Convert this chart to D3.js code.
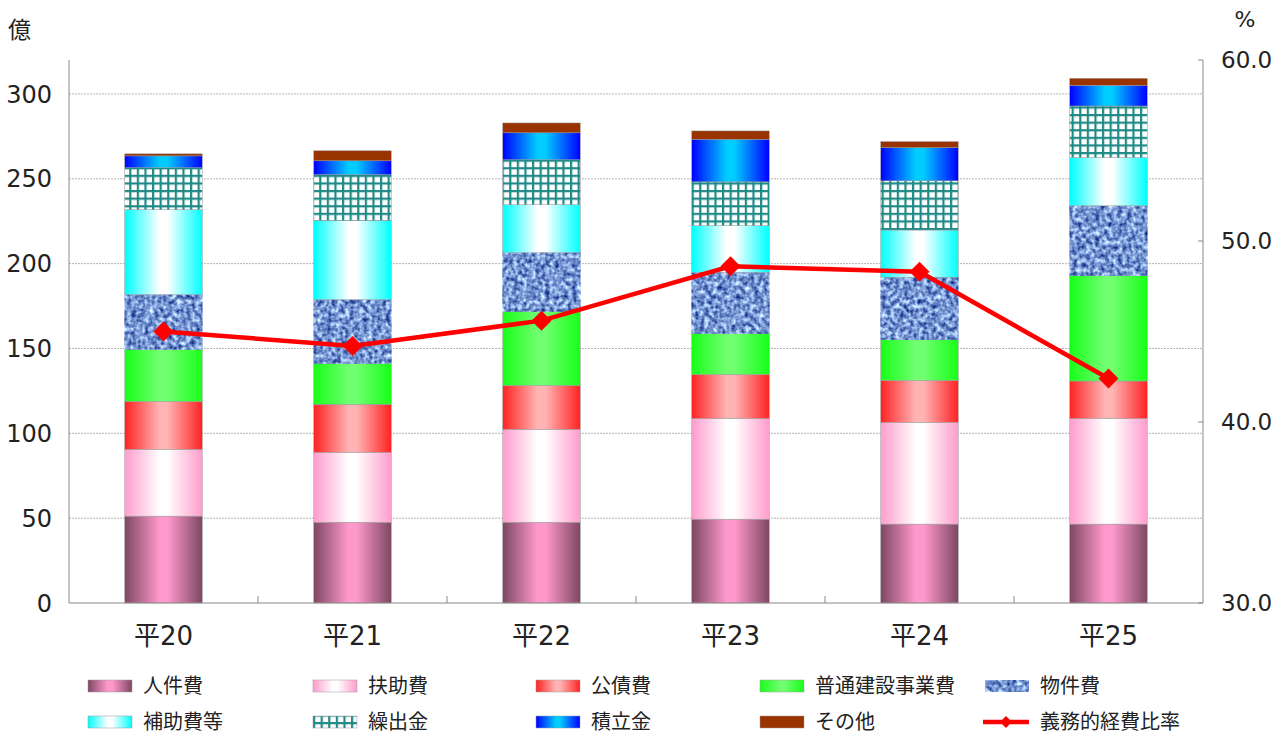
<!DOCTYPE html>
<html>
<head>
<meta charset="utf-8">
<script src="https://cdn.jsdelivr.net/npm/d3@7"></script>
<style>
  body { margin: 0; background: #fff; }
  svg { display: block; }
  text { font-family: "DejaVu Sans", "Noto Sans CJK JP", sans-serif; fill: #222; }
  .jp { font-family: "Noto Sans CJK JP", sans-serif; }
</style>
</head>
<body>
<div id="chart"></div>
<script>
// data
var categories = ["平20", "平21", "平22", "平23", "平24", "平25"];
var jinkenhi   = [51.2, 47.6, 47.6, 49.4, 46.5, 46.5];
var fujohi     = [39.4, 41.2, 54.8, 59.4, 60.0, 62.3];
var kosaihi    = [28.2, 28.3, 25.8, 25.9, 24.7, 22.0];
var futsuken   = [30.6, 24.1, 43.6, 24.1, 23.9, 62.1];
var bukkenhi   = [32.4, 37.6, 34.7, 36.1, 36.9, 41.2];
var hojohi     = [50.0, 46.5, 28.2, 27.5, 27.8, 28.4];
var kuridashi  = [24.7, 27.1, 26.5, 25.8, 29.0, 30.4];
var tsumitate  = [7.0, 8.2, 15.9, 25.1, 19.6, 12.2];
var sonota     = [1.2, 5.9, 5.8, 4.9, 3.5, 4.1];
var gimuRatio  = [45.0, 44.2, 45.6, 48.6, 48.3, 42.4];
var leftTicks  = [0, 50, 100, 150, 200, 250, 300];
var rightTicks = [30, 40, 50, 60];

var seriesNames = ["人件費", "扶助費", "公債費", "普通建設事業費", "物件費", "補助費等", "繰出金", "積立金", "その他"];
var seriesValues = [jinkenhi, fujohi, kosaihi, futsuken, bukkenhi, hojohi, kuridashi, tsumitate, sonota];
var lineName = "義務的経費比率";

// fills: gradient edge/center colours, or a pattern id
var fills = [
    { id: 'g0', edge: '#7e4763', center: '#ff99cc' },
    { id: 'g1', edge: '#ff9ccc', center: '#ffffff' },
    { id: 'g2', edge: '#ff2222', center: '#ffb4b4' },
    { id: 'g3', edge: '#18ff18', center: '#70ff70' },
    { id: 'tex' },
    { id: 'g5', edge: '#00ffff', center: '#ffffff' },
    { id: 'grid' },
    { id: 'g7', edge: '#0000ff', center: '#00ccff' },
    { id: 'g8', edge: '#993300', center: '#993300' }
];

var W = 1287, H = 735;
var plotL = 69, plotR = 1203, plotT = 60, plotB = 603;

var svg = d3.select('#chart').append('svg')
    .attr('width', W)
    .attr('height', H);

var defs = svg.append('defs');

fills.filter(function(f) { return f.edge; }).forEach(function(f) {
    var g = defs.append('linearGradient').attr('id', f.id)
        .attr('x1', 0).attr('x2', 1).attr('y1', 0).attr('y2', 0);
    g.append('stop').attr('offset', '0%').attr('stop-color', f.edge);
    g.append('stop').attr('offset', '45%').attr('stop-color', f.center);
    g.append('stop').attr('offset', '55%').attr('stop-color', f.center);
    g.append('stop').attr('offset', '100%').attr('stop-color', f.edge);
});

// teal lattice for 繰出金
var grid = defs.append('pattern').attr('id', 'grid')
    .attr('patternUnits', 'userSpaceOnUse')
    .attr('width', 7.6).attr('height', 7.6);
grid.append('rect').attr('width', 7.6).attr('height', 7.6).attr('fill', '#fff');
grid.append('rect').attr('x', 0).attr('width', 2.2).attr('height', 7.6).attr('fill', '#1f8a86');
grid.append('rect').attr('y', 0).attr('width', 7.6).attr('height', 2.2).attr('fill', '#1f8a86');

// denim-like noise for 物件費
var filt = defs.append('filter').attr('id', 'denim')
    .attr('color-interpolation-filters', 'sRGB')
    .attr('x', 0).attr('y', 0).attr('width', 1).attr('height', 1);
filt.append('feTurbulence').attr('type', 'fractalNoise')
    .attr('baseFrequency', '0.22').attr('numOctaves', 2).attr('seed', 3).attr('result', 'noise');
filt.append('feColorMatrix').attr('in', 'noise').attr('type', 'matrix')
    .attr('values', '1.25 0 0 0 -0.16  1.25 0 0 0 -0.04  0.9 0 0 0 0.37  0 0 0 0 1')
    .attr('result', 'col');
filt.append('feComposite').attr('in', 'col').attr('in2', 'SourceGraphic').attr('operator', 'in');

var x = d3.scaleBand().domain(categories).range([plotL, plotR])
    .paddingInner(0.59).paddingOuter(0.295);
var y = d3.scaleLinear().domain([0, 320]).range([plotB, plotT]);
var yR = d3.scaleLinear().domain([30, 60]).range([plotB, plotT]);

// gridlines
svg.append('g').selectAll('line').data(leftTicks.filter(function(d) { return d > 0; }))
    .enter().append('line')
    .attr('x1', plotL).attr('x2', plotR)
    .attr('y1', function(d) { return y(d); }).attr('y2', function(d) { return y(d); })
    .attr('stroke', '#b4b4b4').attr('stroke-width', 1).attr('stroke-dasharray', '2,1');

// stacked bars
var rows = categories.map(function(c, i) {
    var o = { cat: c };
    seriesNames.forEach(function(s, k) { o[s] = seriesValues[k][i]; });
    return o;
});
var stacked = d3.stack().keys(seriesNames)(rows);

var layers = svg.append('g').selectAll('g.layer').data(stacked)
    .enter().append('g').attr('class', 'layer');

layers.selectAll('rect').data(function(d) { return d; })
    .enter().append('rect')
    .attr('x', function(d) { return x(d.data.cat); })
    .attr('width', x.bandwidth())
    .attr('y', function(d) { return y(d[1]); })
    .attr('height', function(d) { return y(d[0]) - y(d[1]); })
    .attr('fill', function() {
        var k = seriesNames.indexOf(d3.select(this.parentNode).datum().key);
        return k === 4 ? '#5577aa' : 'url(#' + fills[k].id + ')';
    })
    .attr('filter', function() {
        var k = seriesNames.indexOf(d3.select(this.parentNode).datum().key);
        return k === 4 ? 'url(#denim)' : null;
    })
    .attr('stroke', '#9a9a9a').attr('stroke-width', 0.5);

// axes
var axisColor = '#8a8a8a';
svg.append('line').attr('x1', plotL).attr('x2', plotL).attr('y1', plotT).attr('y2', plotB)
    .attr('stroke', axisColor);
svg.append('line').attr('x1', plotR).attr('x2', plotR).attr('y1', plotT).attr('y2', plotB)
    .attr('stroke', axisColor);
svg.append('line').attr('x1', plotL).attr('x2', plotR).attr('y1', plotB).attr('y2', plotB)
    .attr('stroke', axisColor);

// category boundary ticks
svg.append('g').selectAll('line').data(categories.slice(1))
    .enter().append('line')
    .attr('x1', function(d) { return x(d) - x.step() * x.paddingInner() / 2; })
    .attr('x2', function(d) { return x(d) - x.step() * x.paddingInner() / 2; })
    .attr('y1', plotB - 7).attr('y2', plotB)
    .attr('stroke', axisColor);

// right axis ticks
svg.append('g').selectAll('line').data(rightTicks)
    .enter().append('line')
    .attr('x1', plotR - 5).attr('x2', plotR)
    .attr('y1', function(d) { return yR(d); }).attr('y2', function(d) { return yR(d); })
    .attr('stroke', axisColor);

svg.append('g').selectAll('text').data(leftTicks)
    .enter().append('text')
    .attr('x', 52).attr('y', function(d) { return y(d); })
    .attr('dy', '0.36em')
    .attr('text-anchor', 'end')
    .style('font-size', '24px')
    .text(function(d) { return d; });

svg.append('g').selectAll('text').data(rightTicks)
    .enter().append('text')
    .attr('x', 1221).attr('y', function(d) { return yR(d); })
    .attr('dy', '0.36em')
    .style('font-size', '23px')
    .text(function(d) { return d.toFixed(1); });

svg.append('g').selectAll('text').data(categories)
    .enter().append('text')
    .attr('x', function(d) { return x(d) + x.bandwidth() / 2; })
    .attr('y', 645)
    .attr('text-anchor', 'middle')
    .style('font-size', '26px')
    .text(function(d) { return d; });

svg.append('text').attr('class', 'jp').attr('x', 8).attr('y', 38)
    .style('font-size', '23px').text('億');
svg.append('text').attr('x', 1245).attr('y', 27).attr('text-anchor', 'middle')
    .style('font-size', '22px').text('%');

// ratio line
var line = d3.line()
    .x(function(d, i) { return x(categories[i]) + x.bandwidth() / 2; })
    .y(function(d) { return yR(d); });

svg.append('path').datum(gimuRatio)
    .attr('d', line)
    .attr('fill', 'none')
    .attr('stroke', '#ff0000')
    .attr('stroke-width', 4.5);

svg.append('g').selectAll('path').data(gimuRatio)
    .enter().append('path')
    .attr('transform', function(d, i) {
        return 'translate(' + (x(categories[i]) + x.bandwidth() / 2) + ',' + yR(d) + ') rotate(45)';
    })
    .attr('d', d3.symbol().type(d3.symbolSquare).size(200))
    .attr('fill', '#ff0000');

// legend
var legCols = [88, 313, 536, 760, 985];
var legRows = [686, 722];
var legItems = seriesNames.map(function(s, k) { return { name: s, k: k }; });
legItems.push({ name: lineName, k: -1 });

var leg = svg.append('g').selectAll('g').data(legItems)
    .enter().append('g')
    .attr('transform', function(d, i) {
        var lx = i < 5 ? legCols[i] : legCols[i - 5];
        var ly = i < 5 ? legRows[0] : legRows[1];
        return 'translate(' + lx + ',' + ly + ')';
    });

leg.filter(function(d) { return d.k >= 0; }).append('rect')
    .attr('x', 0).attr('y', -6).attr('width', 44).attr('height', 12)
    .attr('fill', function(d) { return d.k === 4 ? '#5577aa' : 'url(#' + fills[d.k].id + ')'; })
    .attr('filter', function(d) { return d.k === 4 ? 'url(#denim)' : null; })
    .attr('stroke', '#9a9a9a').attr('stroke-width', 0.5);

var lineLeg = leg.filter(function(d) { return d.k < 0; });
lineLeg.append('line').attr('x1', -2).attr('x2', 44).attr('y1', 0).attr('y2', 0)
    .attr('stroke', '#ff0000').attr('stroke-width', 4.5);
lineLeg.append('path').attr('transform', 'translate(21,0) rotate(45)')
    .attr('d', d3.symbol().type(d3.symbolSquare).size(70)).attr('fill', '#ff0000');

leg.append('text').attr('class', 'jp')
    .attr('x', 55)
    .attr('y', 0).attr('dy', '0.36em')
    .style('font-size', '20px')
    .text(function(d) { return d.name; });
</script>
</body>
</html>
